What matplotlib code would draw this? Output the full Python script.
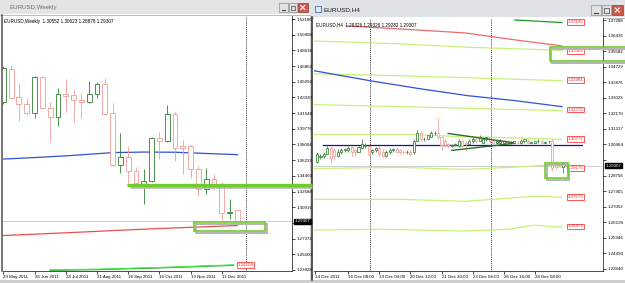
import numpy as np
import matplotlib
matplotlib.use('Agg')
import matplotlib.pyplot as plt
from matplotlib.patches import Rectangle
import matplotlib.transforms as mtransforms

plt.rcParams['font.family'] = ['Liberation Sans', 'DejaVu Sans']

W, H = 625, 283

# ---------------- Weekly chart data ----------------
w_title = 'EURUSD,Weekly'
w_header = 'EURUSD,Weekly  1.30552 1.30623 1.28878 1.29307'
w_open = [1.4277, 1.4651, 1.4333, 1.4254, 1.4152, 1.4560, 1.4209, 1.4107, 1.4367, 1.4356,
          1.4300, 1.4277, 1.4367, 1.4481, 1.4152, 1.3574, 1.3664, 1.3506, 1.3336, 1.3392,
          1.3869, 1.3835, 1.4141, 1.3778, 1.3778, 1.3528, 1.3302, 1.3415, 1.3358, 1.3023,
          1.30552]
w_high = [1.4685, 1.4696, 1.4492, 1.4322, 1.4572, 1.4572, 1.4277, 1.4436, 1.4538, 1.4413,
          1.4379, 1.4515, 1.4504, 1.4549, 1.4265, 1.3925, 1.3778, 1.3551, 1.3528, 1.3880,
          1.3937, 1.4243, 1.4163, 1.3846, 1.3800, 1.3562, 1.3540, 1.3472, 1.3381, 1.3188,
          1.30623]
w_low = [1.4254, 1.4311, 1.4061, 1.4129, 1.4095, 1.4197, 1.3823, 1.4005, 1.4163, 1.4050,
         1.4095, 1.4265, 1.4322, 1.4129, 1.3562, 1.3483, 1.3370, 1.3336, 1.3131, 1.3381,
         1.3642, 1.3823, 1.3619, 1.3472, 1.3426, 1.3222, 1.3245, 1.3302, 1.2939, 1.2961,
         1.28878]
w_close = [1.4662, 1.4322, 1.4254, 1.4152, 1.4560, 1.4209, 1.4107, 1.4367, 1.4345, 1.4300,
           1.4277, 1.4367, 1.4481, 1.4141, 1.3574, 1.3664, 1.3506, 1.3370, 1.3392, 1.3869,
           1.3835, 1.4141, 1.3766, 1.3761, 1.3528, 1.3302, 1.3415, 1.3358, 1.3029, 1.3035,
           1.29307]
w_date_labels = ['29 May 2011', '26 Jun 2011', '24 Jul 2011', '21 Aug 2011',
                 '18 Sep 2011', '16 Oct 2011', '13 Nov 2011', '11 Dec 2011']
w_date_pos = [0, 4, 8, 12, 16, 20, 24, 28]
w_price_ticks = [1.52180, 1.50408, 1.48636, 1.46864, 1.45092, 1.43320, 1.41548, 1.39776,
                 1.38004, 1.36232, 1.34460, 1.32688, 1.30916, 1.29144, 1.27372, 1.25600,
                 1.23828]
w_last = 1.29307
w_ma_blue_x = [0, 4, 8, 12, 14, 18, 22, 26, 30]
w_ma_blue = [1.3636, 1.3653, 1.3672, 1.3696, 1.3709, 1.3715, 1.3713, 1.3699, 1.3686]
w_ma_red_x = [0, 5, 10, 15, 20, 25, 30]
w_ma_red = [1.2772, 1.2791, 1.2811, 1.2832, 1.2851, 1.2868, 1.2885]
w_grn_x = [6, 12.4, 21, 29.5]
w_grn_dark = [1.2380, 1.2388, 1.2410, 1.2436]
w_grn_lime = [1.2384, 1.2392, 1.2414, 1.2440]
w_grn_label = '1.24109'
w_level = 1.3348          # thick green support line
w_level_from = 15.9
w_box_x = [24.45, 33.55]  # green highlight box
w_box_y = [1.2822, 1.2924]
w_separator = 31.1

# ---------------- H4 chart data ----------------
h_title = 'EURUSD,H4'
h_header = 'EURUSD,H4  1.29326 1.29326 1.29282 1.29307'
h_open = [1.2948, 1.2976, 1.2981, 1.2997, 1.3025, 1.3014, 1.2986, 1.3003, 1.3014, 1.3014,
          1.3030, 1.3014, 1.3008, 1.3025, 1.3036, 1.3036, 1.3003, 1.3014, 1.3025, 1.3003,
          1.2986, 1.3003, 1.3014, 1.3019, 1.3014, 1.3008, 1.3003, 1.3008, 1.3003, 1.3068,
          1.3107, 1.3074, 1.3079, 1.3090, 1.3107, 1.3107, 1.3085, 1.3068, 1.3047, 1.3036,
          1.3041, 1.3036, 1.3068, 1.3057, 1.3047, 1.3063, 1.3079, 1.3068, 1.3057, 1.3074,
          1.3085, 1.3068, 1.3052, 1.3052, 1.3057, 1.3063, 1.3057, 1.3052, 1.3057, 1.3052,
          1.3063, 1.3068, 1.3057, 1.3057, 1.3063, 1.3068, 1.3057, 1.3063, 1.3068, 1.2948,
          1.2937, 1.2921, 1.29326]
h_high = [1.3003, 1.2997, 1.3003, 1.3036, 1.3036, 1.3025, 1.3019, 1.3025, 1.3025, 1.3036,
          1.3036, 1.3025, 1.3036, 1.3079, 1.3052, 1.3041, 1.3019, 1.3030, 1.3036, 1.3019,
          1.3014, 1.3025, 1.3025, 1.3030, 1.3019, 1.3014, 1.3014, 1.3014, 1.3074, 1.3128,
          1.3118, 1.3090, 1.3101, 1.3118, 1.3123, 1.3194, 1.3090, 1.3074, 1.3052, 1.3047,
          1.3052, 1.3074, 1.3074, 1.3063, 1.3074, 1.3085, 1.3090, 1.3101, 1.3085, 1.3090,
          1.3090, 1.3074, 1.3068, 1.3074, 1.3068, 1.3068, 1.3063, 1.3068, 1.3063, 1.3074,
          1.3079, 1.3074, 1.3063, 1.3068, 1.3074, 1.3074, 1.3063, 1.3068, 1.3074, 1.2954,
          1.2948, 1.2948, 1.29326]
h_low = [1.2943, 1.2965, 1.2970, 1.2992, 1.2943, 1.2959, 1.2976, 1.2997, 1.3008, 1.3008,
         1.2986, 1.2981, 1.3003, 1.3019, 1.3025, 1.2986, 1.2997, 1.3008, 1.2981, 1.2976,
         1.2976, 1.2997, 1.3008, 1.3003, 1.2992, 1.2997, 1.2997, 1.2986, 1.2997, 1.3063,
         1.3063, 1.3068, 1.3074, 1.3085, 1.3096, 1.3079, 1.3014, 1.3030, 1.3025, 1.3030,
         1.3036, 1.3030, 1.3025, 1.3014, 1.3041, 1.3057, 1.3052, 1.3063, 1.3052, 1.3068,
         1.3052, 1.3047, 1.3047, 1.3047, 1.3052, 1.3052, 1.3047, 1.3047, 1.3047, 1.3047,
         1.3057, 1.3047, 1.3052, 1.3052, 1.3057, 1.3052, 1.3052, 1.3057, 1.2899, 1.2910,
         1.2926, 1.2888, 1.29282]
h_close = [1.2997, 1.2986, 1.2992, 1.3025, 1.2970, 1.2981, 1.3008, 1.3014, 1.3019, 1.3025,
           1.3008, 1.3003, 1.3030, 1.3047, 1.3041, 1.2997, 1.3014, 1.3025, 1.2992, 1.2981,
           1.3008, 1.3014, 1.3019, 1.3008, 1.3003, 1.3003, 1.3008, 1.2992, 1.3068, 1.3112,
           1.3074, 1.3079, 1.3096, 1.3112, 1.3112, 1.3085, 1.3041, 1.3041, 1.3036, 1.3041,
           1.3047, 1.3068, 1.3036, 1.3047, 1.3063, 1.3079, 1.3063, 1.3090, 1.3079, 1.3085,
           1.3063, 1.3052, 1.3063, 1.3068, 1.3063, 1.3057, 1.3052, 1.3063, 1.3052, 1.3068,
           1.3074, 1.3052, 1.3059, 1.3063, 1.3068, 1.3057, 1.3060, 1.3065, 1.2915, 1.2921,
           1.2932, 1.2943, 1.29307]
h_date_labels = ['14 Dec 2011', '16 Dec 08:00', '19 Dec 04:00', '20 Dec 12:00',
                 '21 Dec 20:00', '23 Dec 04:00', '26 Dec 16:00', '28 Dec 08:00']
h_date_pos = [-0.6, 9, 18, 27, 36, 45, 54, 63]
h_price_ticks = [1.37288, 1.36435, 1.35582, 1.34729, 1.33876, 1.33023, 1.32170, 1.31317,
                 1.30464, 1.29611, 1.28758, 1.27905, 1.27052, 1.26199, 1.25346, 1.24493,
                 1.23640]
h_last = 1.29307
h_separators = [15.3, 50.3]
h_level_labels = ['1.37185', '1.35583', '1.33981', '1.32379', '1.30777', '1.29175', '1.27573', '1.25971']
h_level_values = [1.37185, 1.35583, 1.33981, 1.32379, 1.30777, 1.29175, 1.27573, 1.25971]
h_red_x = [8.7, 24, 42.8, 57.2, 70.8]
h_red = [1.3696, 1.3680, 1.3658, 1.3620, 1.3587]
h_top_x = [57.2, 70.8]
h_top = [1.3729, 1.3715]
h_blue_x = [-0.9, 15.3, 29.8, 43.6, 57.2, 70.8]
h_blue = [1.3451, 1.3396, 1.3352, 1.3314, 1.3287, 1.3254]
h_env_x = [
    [-0.9, 24, 44.2, 67.3, 70.8],
    [-0.9, 24, 44.2, 70.8],
    [-0.9, 24, 47.1, 70.8],
    [-0.9, 26.9, 41.3, 65.3, 70.8],
    [-0.9, 24, 42.8, 55.8, 65.9, 70.8],
    [-0.9, 24, 42.8, 55.2, 63, 70.8],
    [-0.9, 18.2, 42.8, 55.2, 63, 70.8],
]
h_env_y = [
    [1.3614, 1.3598, 1.3579, 1.3565, 1.3562],
    [1.3434, 1.3423, 1.3412, 1.3396],
    [1.3265, 1.3254, 1.3243, 1.3232],
    [1.3101, 1.3101, 1.3090, 1.3079, 1.3074],
    [1.2915, 1.2921, 1.2910, 1.2921, 1.2932, 1.2921],
    [1.2746, 1.2746, 1.2735, 1.2752, 1.2763, 1.2757],
    [1.2577, 1.2582, 1.2572, 1.2582, 1.2604, 1.2593],
]
h_navy_level = 1.3041
h_navy_x = [1.7, 76.6]
h_tri_up_x = [37.9, 56.6]
h_tri_up = [1.3107, 1.3057]
h_tri_lo_x = [39.0, 56.6]
h_tri_lo = [1.3014, 1.3052]
h_box1_x = [65.9, 72.5]
h_box1_y = [1.2861, 1.2943]
h_box2_x = [67.3, 90.0]
h_box2_y = [1.3505, 1.3582]

BULL = '#2f7f2f'
BEAR = '#f29a94'
LGREEN = '#c9ef7a'
ANN = '#6fcd2b'
SHADOW = '#b4b4b4'


def rect(x0, y0, x1, y1):
    return [x0 / W, 1 - y1 / H, (x1 - x0) / W, (y1 - y0) / H]


def candles(ax, o, h, l, c, width, lw):
    o, h, l, c = map(np.asarray, (o, h, l, c))
    x = np.arange(len(o))
    cols = [BULL if ci >= oi else BEAR for oi, ci in zip(o, c)]
    ax.vlines(x, l, h, colors=cols, lw=lw, zorder=3)
    bottom = np.minimum(o, c)
    height = np.abs(c - o)
    ax.bar(x, height, width, bottom, facecolor='white', edgecolor=cols,
           linewidth=lw, zorder=4)
    for xi, oi, ci, col in zip(x, o, c, cols):
        if abs(ci - oi) < 0.00015:
            ax.hlines(oi, xi - width / 2, xi + width / 2, colors=col, lw=lw, zorder=5)


def style_axes(ax, yt, xt, xl, hide_near):
    ax.set_facecolor('white')
    ax.yaxis.tick_right()
    ax.set_yticks(yt)
    span = abs(yt[0] - yt[1])
    ax.set_yticklabels(['' if abs(v - hide_near) < 0.45 * span else '%.5f' % v for v in yt])
    ax.set_xticks(xt)
    ax.set_xticklabels(xl, ha='left')
    ax.tick_params(axis='both', direction='out', length=2, width=0.5,
                   labelsize=3.2, pad=1.2, colors='black')
    for s in ['top', 'left']:
        ax.spines[s].set_visible(False)
    for s in ['right', 'bottom']:
        ax.spines[s].set_color('#303030')
        ax.spines[s].set_linewidth(0.6)


fig = plt.figure(figsize=(W / 100, H / 100), dpi=100)
fig.patch.set_facecolor('#d4d4d4')

# ---------- window chrome ----------
bg = fig.add_axes([0, 0, 1, 1])
bg.set_xlim(0, W)
bg.set_ylim(H, 0)
bg.axis('off')
bg.add_patch(Rectangle((0, 14), 310, 266, facecolor='white', edgecolor='none'))
bg.add_patch(Rectangle((0, 0), 310, 14, facecolor='#e4e4e4', edgecolor='none'))
bg.plot([0, 310], [14.5, 14.5], color='#b0b0b0', lw=0.6)
bg.text(10, 7.5, w_title, fontsize=4.4, color='#6a6a6a', va='center', ha='left')
bg.plot([2.2, 2.2], [15, 271], color='#505050', lw=1.1)
bg.add_patch(Rectangle((310, 0), 315, 17, facecolor='#dfe3e8', edgecolor='none'))
bg.add_patch(Rectangle((312, 17), 313, 263, facecolor='white', edgecolor='none'))
bg.plot([310, 625], [17.5, 17.5], color='#a8a8a8', lw=0.6)
bg.plot([311.8, 311.8], [17, 280], color='#4a4a4a', lw=1.3)
bg.add_patch(Rectangle((314.5, 6), 6, 6, facecolor='#dbe8f8', edgecolor='#4a6aa8', lw=0.6))
bg.text(324, 9.5, h_title, fontsize=4.6, color='#1a1a1a', va='center', ha='left')
bg.add_patch(Rectangle((0, 280), 625, 3, facecolor='#cdcdcd', edgecolor='none'))


def buttons(x0, y0, h, w):
    bg.add_patch(Rectangle((x0, y0), w, h, facecolor='#e2e2e2', edgecolor='#8c8c8c', lw=0.5))
    bg.plot([x0 + 2.5, x0 + w - 2.5], [y0 + h - 2.5] * 2, color='#404040', lw=0.8)
    bg.add_patch(Rectangle((x0 + w + 1, y0), w, h, facecolor='#e2e2e2', edgecolor='#8c8c8c', lw=0.5))
    bg.add_patch(Rectangle((x0 + w + 3, y0 + 2.5), w - 4, h - 5, facecolor='none', edgecolor='#404040', lw=0.5))
    bg.add_patch(Rectangle((x0 + 2 * w + 2, y0), w + 1, h, facecolor='#d2584a', edgecolor='#8a3a30', lw=0.5))
    cx, cy = x0 + 2.5 * w + 2.5, y0 + h / 2
    bg.plot([cx - 2, cx + 2], [cy - 2, cy + 2], color='white', lw=0.8)
    bg.plot([cx - 2, cx + 2], [cy + 2, cy - 2], color='white', lw=0.8)


buttons(279, 3, 9, 8.5)
buttons(591, 5, 10, 9.5)

# ---------- left: weekly chart ----------
ax1 = fig.add_axes(rect(3, 16, 292, 271))
ax1.set_xlim(-0.04, 37.0)
ax1.set_ylim(1.23714, 1.52519)
style_axes(ax1, w_price_ticks, w_date_pos, w_date_labels, w_last)
ax1.axhline(w_last, color='#c4c4c4', lw=0.6, zorder=1)
ax1.axvline(w_separator, color='black', lw=0.6, ls=(0, (1, 1.3)), zorder=2)
ax1.plot(w_ma_blue_x, w_ma_blue, color='#2f50d8', lw=0.9, zorder=2)
ax1.plot(w_ma_red_x, w_ma_red, color='#e85050', lw=0.9, zorder=2)
ax1.plot(w_grn_x, w_grn_dark, color='#1f9a1f', lw=0.9, zorder=2)
ax1.plot(w_grn_x, w_grn_lime, color='#3cf03c', lw=0.8, zorder=2)
candles(ax1, w_open, w_high, w_low, w_close, 0.62, 0.6)
ax1.text(w_grn_x[-1] + 0.5, w_grn_lime[-1], w_grn_label, fontsize=3.2, color='#ff2020',
         va='center', ha='left', zorder=6,
         bbox=dict(facecolor='white', edgecolor='#ff3a3a', lw=0.6, pad=0.6))
ax1.text(0.004, 0.99, w_header, transform=ax1.transAxes, fontsize=3.3, va='top', ha='left')
# annotations: thick green level + box with shadows
ax1.plot([w_level_from + 0.3, 39.5], [w_level - 0.0024] * 2, color=SHADOW, lw=1.8,
         clip_on=False, zorder=7, solid_capstyle='butt')
ax1.plot([w_level_from, 39.5], [w_level] * 2, color=ANN, lw=2.4, clip_on=False,
         zorder=8, solid_capstyle='butt')
ax1.add_patch(Rectangle((w_box_x[0] + 0.3, w_box_y[0] - 0.0022), w_box_x[1] - w_box_x[0],
                        w_box_y[1] - w_box_y[0], facecolor='none', edgecolor=SHADOW, lw=1.4, zorder=7))
ax1.add_patch(Rectangle((w_box_x[0], w_box_y[0]), w_box_x[1] - w_box_x[0],
                        w_box_y[1] - w_box_y[0], facecolor='none', edgecolor=ANN, lw=1.2, zorder=8))
trans1 = mtransforms.blended_transform_factory(ax1.transAxes, ax1.transData)
ax1.text(1.008, w_last, '%.5f' % w_last, transform=trans1, fontsize=3.2, color='white',
         va='center', ha='left', zorder=10, clip_on=False,
         bbox=dict(facecolor='black', edgecolor='black', pad=0.5))

# ---------- right: H4 chart ----------
ax2 = fig.add_axes(rect(314, 18, 603, 271))
ax2.set_xlim(-0.87, 82.7)
ax2.set_ylim(1.23530, 1.37398)
style_axes(ax2, h_price_ticks, h_date_pos, h_date_labels, h_last)
ax2.axhline(h_last, color='#c8c8c8', lw=0.6, zorder=1)
for s in h_separators:
    ax2.axvline(s, color='black', lw=0.6, ls=(0, (1, 1.3)), zorder=2)
for ex, ey in zip(h_env_x, h_env_y):
    ax2.plot(ex, ey, color=LGREEN, lw=0.9, zorder=2)
ax2.plot(h_red_x, h_red, color='#ee6a6a', lw=0.9, zorder=2)
ax2.plot(h_top_x, h_top, color='#1c9a1c', lw=0.9, zorder=2)
ax2.plot(h_blue_x, h_blue, color='#2f50d8', lw=0.9, zorder=2)
ax2.plot(h_navy_x, [h_navy_level] * 2, color='#141488', lw=0.9, zorder=2)
ax2.plot(h_tri_up_x, h_tri_up, color='#2d6a2d', lw=1.0, zorder=6)
ax2.plot(h_tri_lo_x, h_tri_lo, color='#2d6a2d', lw=1.0, zorder=6)
candles(ax2, h_open, h_high, h_low, h_close, 0.6, 0.55)
for lab, val in zip(h_level_labels, h_level_values):
    ax2.text(72.4, val, lab, fontsize=3.2, color='#ff2020', va='center', ha='left', zorder=6,
             bbox=dict(facecolor='white', edgecolor='#ff3a3a', lw=0.6, pad=0.6))
ax2.text(0.008, 0.985, h_header, transform=ax2.transAxes, fontsize=3.3, va='top', ha='left')
for (bx, by) in [(h_box1_x, h_box1_y), (h_box2_x, h_box2_y)]:
    ax2.add_patch(Rectangle((bx[0] + 0.5, by[0] - 0.0011), bx[1] - bx[0], by[1] - by[0],
                            facecolor='none', edgecolor=SHADOW, lw=1.4, zorder=7, clip_on=False))
    ax2.add_patch(Rectangle((bx[0], by[0]), bx[1] - bx[0], by[1] - by[0],
                            facecolor='none', edgecolor=ANN, lw=1.2, zorder=8, clip_on=False))
trans2 = mtransforms.blended_transform_factory(ax2.transAxes, ax2.transData)
ax2.text(1.008, h_last, '%.5f' % h_last, transform=trans2, fontsize=3.2, color='white',
         va='center', ha='left', zorder=10, clip_on=False,
         bbox=dict(facecolor='black', edgecolor='black', pad=0.5))

fig.savefig('out.png', dpi=100, facecolor=fig.get_facecolor())
